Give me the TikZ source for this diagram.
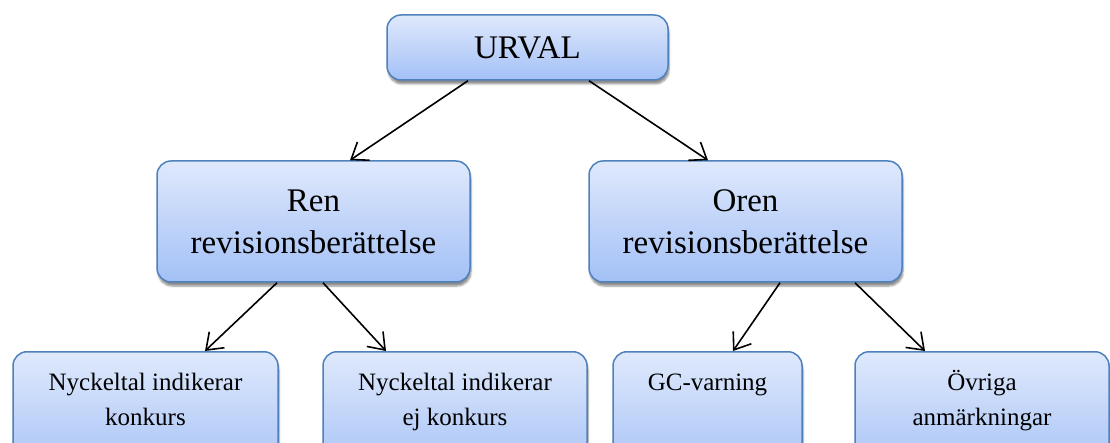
\documentclass[tikz,border=0pt]{standalone}
\usepackage{fontspec}
\setmainfont{Liberation Serif}
\usetikzlibrary{arrows.meta}
\usetikzlibrary{shadows.blur}
\definecolor{bborder}{RGB}{79,129,189}
\definecolor{btop}{RGB}{223,233,252}
\definecolor{bbottom}{RGB}{163,192,246}

\tikzset{
  box/.style={draw=bborder, line width=1.5pt, rounded corners=14pt,
    top color=btop, bottom color=bbottom, align=center, inner sep=0pt,
    blur shadow={shadow xshift=1pt, shadow yshift=-4pt, shadow blur steps=6, shadow opacity=45}},
  midbox/.style={box, minimum width=313pt, minimum height=121pt, font=\rmfamily\fontsize{33}{42}\selectfont},
  leafbox/.style={box, anchor=north, inner xsep=5pt, inner ysep=14.5pt},
  arr/.style={line width=1.6pt, -{Straight Barb[length=15pt,width=22pt,line width=1.6pt]}},
}
\newcommand{\leaftext}[2]{\parbox[t][100pt][t]{#1}{\centering\rmfamily\fontsize{25}{35}\selectfont\strut #2}}

\begin{document}
\begin{tikzpicture}[x=1pt, y=-1pt]
    \useasboundingbox (0, 0) rectangle (1110, 443);

    % top
    \node [box, minimum width=281pt, minimum height=65pt, font=\rmfamily\fontsize{33}{42}\selectfont] (urval) at (527.5, 47.5) {URVAL};

    % middle row
    \node [midbox] (ren) at (313.5, 221.5) {Ren\\revisionsberättelse};
    \node [midbox] (oren) at (745.5, 221.5) {Oren\\revisionsberättelse};

    % bottom row
    \node [leafbox] (konkurs) at (145.5, 351) {\leaftext{255pt}{Nyckeltal indikerar\\konkurs}};
    \node [leafbox] (ejkonkurs) at (455, 351) {\leaftext{254pt}{Nyckeltal indikerar\\ej konkurs}};
    \node [leafbox] (gc) at (707.5, 351) {\leaftext{179pt}{GC-varning}};
    \node [leafbox] (ovriga) at (982, 351) {\leaftext{244pt}{Övriga\\anmärkningar}};

    \draw [arr] ([xshift=-59.5pt]urval.south) -- ([xshift=36.5pt]ren.north);
    \draw [arr] ([xshift=61.5pt]urval.south) -- ([xshift=-37.5pt]oren.north);

    \draw [arr] ([xshift=-36.5pt]ren.south) -- ([xshift=59.5pt]konkurs.north);
    \draw [arr] ([xshift=9.5pt]ren.south) -- ([xshift=-69pt]ejkonkurs.north);

    \draw [arr] ([xshift=34.5pt]oren.south) -- ([xshift=25.5pt]gc.north);
    \draw [arr] ([xshift=109.5pt]oren.south) -- ([xshift=-57pt]ovriga.north);
\end{tikzpicture}
\end{document}
